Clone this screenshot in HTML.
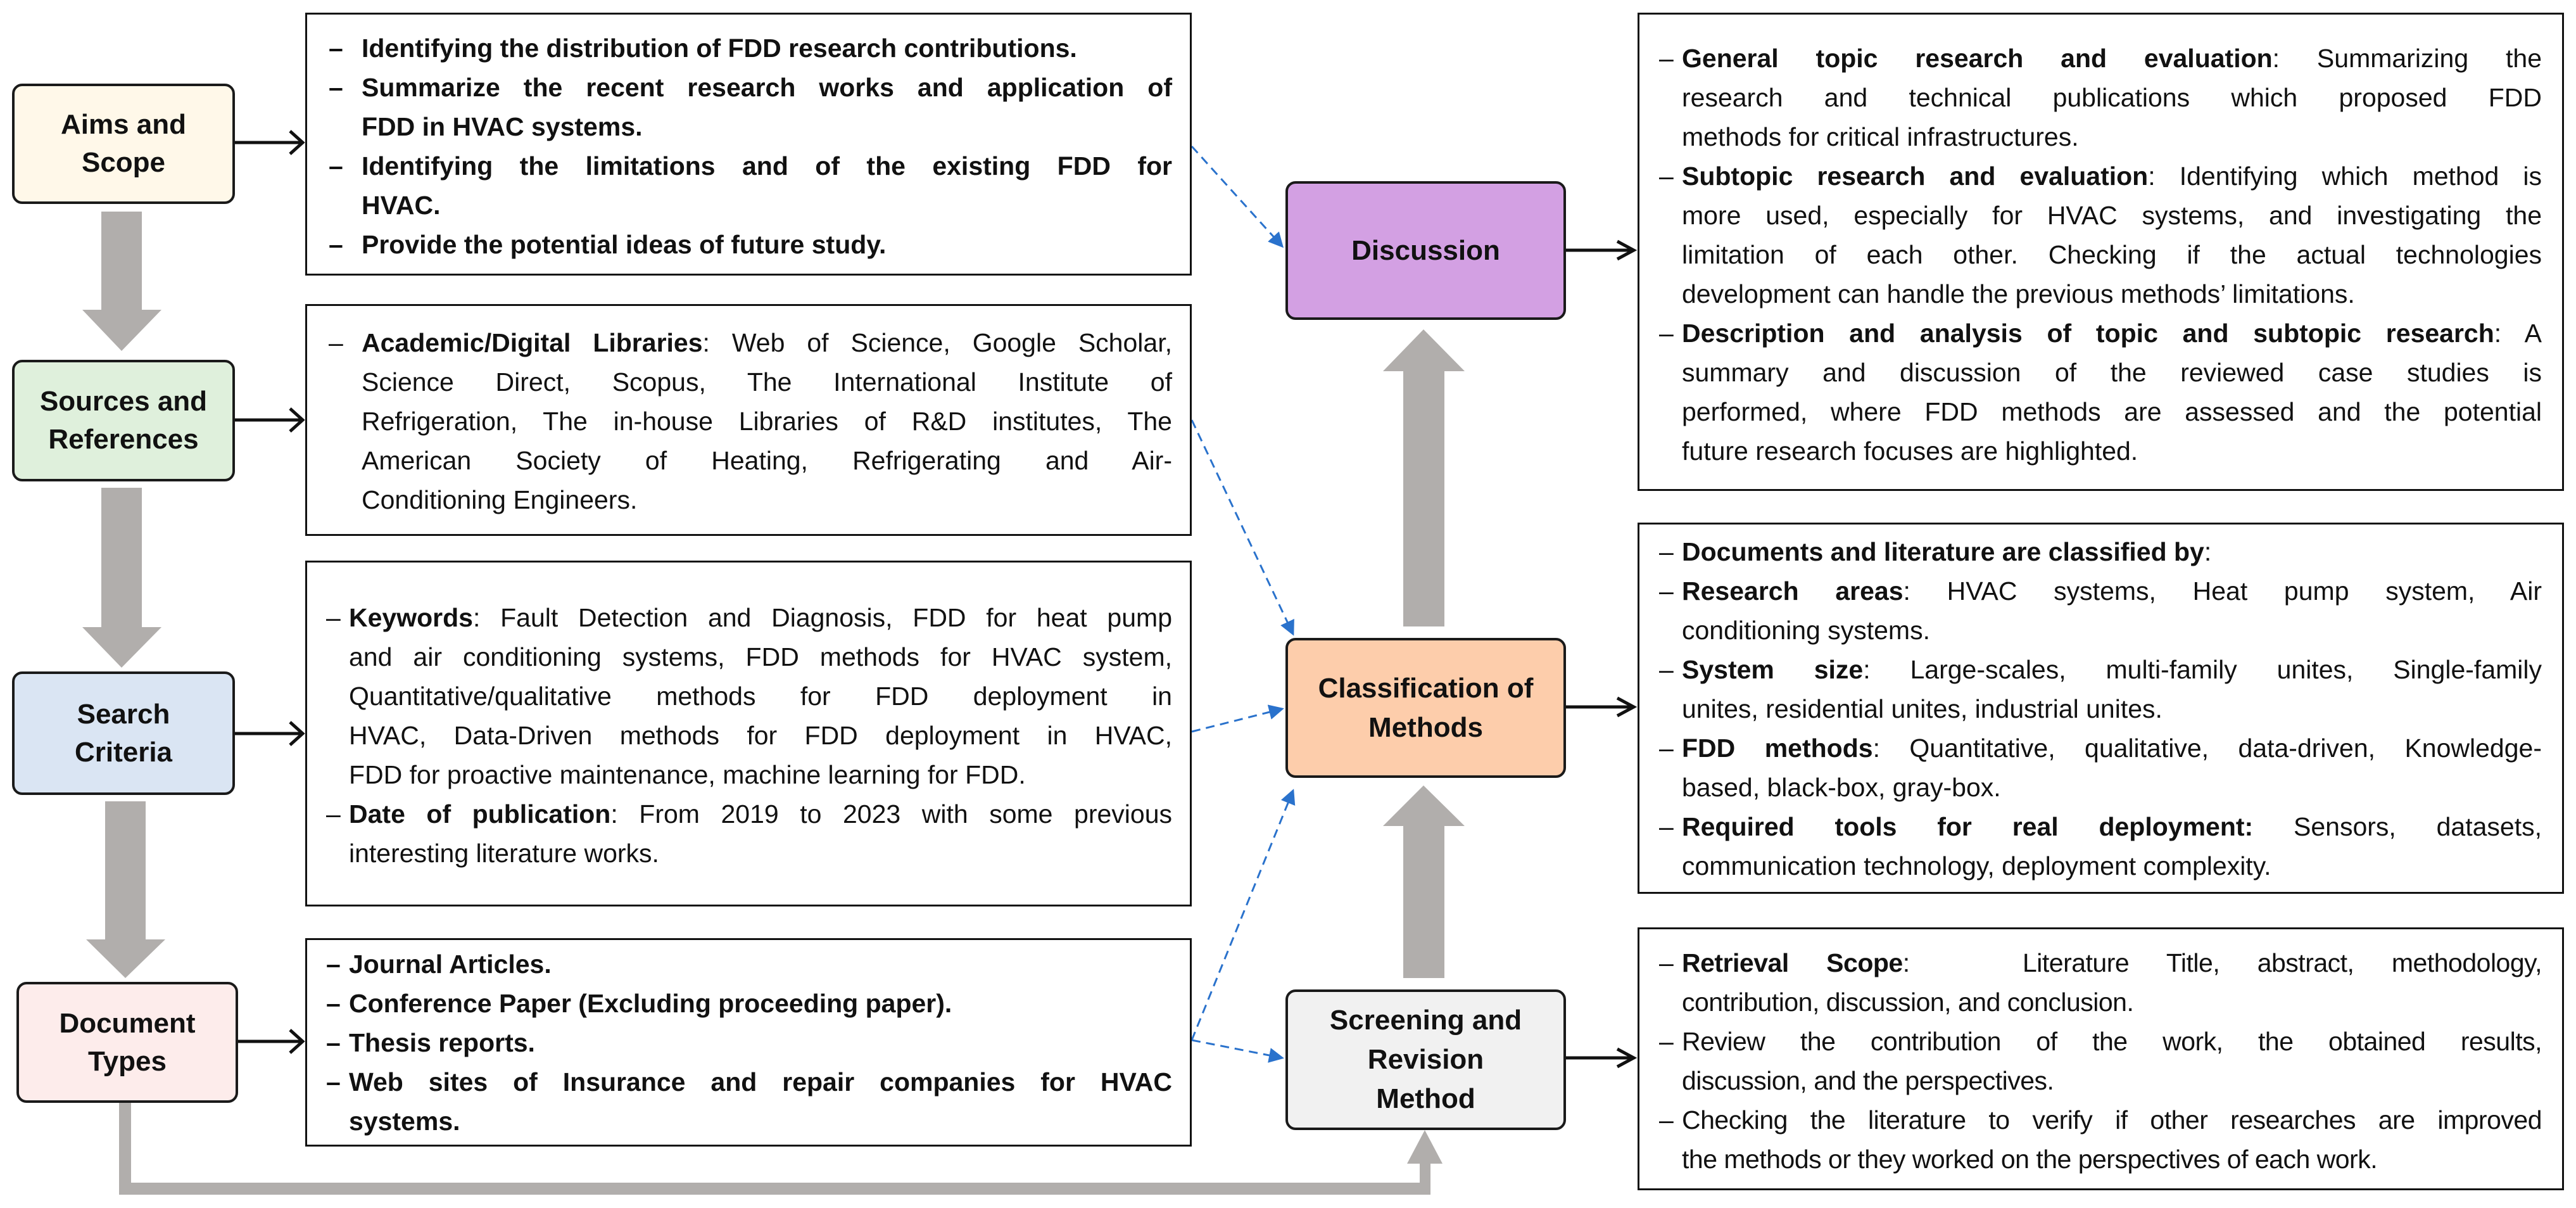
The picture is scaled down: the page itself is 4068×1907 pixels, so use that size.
<!DOCTYPE html>
<html><head><meta charset="utf-8"><style>
*{margin:0;padding:0;box-sizing:border-box}
body{width:4068px;height:1907px;background:#fff;position:relative;overflow:hidden;font-family:"Liberation Sans",Arial,sans-serif;color:#111}
.box{position:absolute;border:3.5px solid #111;background:#fff}
.lab{position:absolute;border:4px solid #1a1a1a;border-radius:16px;display:flex;flex-direction:column;justify-content:center;align-items:center;text-align:center;font-weight:bold;font-size:44px;line-height:60px}
.t{position:absolute;font-size:41px;line-height:62px;white-space:nowrap}
.t div{position:relative;height:62px}
.j{text-align:justify;text-align-last:justify}
.d{position:absolute;left:-36px}
b{font-weight:bold}
svg{position:absolute;left:0;top:0}
</style></head><body>

<svg width="4068" height="1907">
<defs>
<marker id="bl" markerWidth="8" markerHeight="8" refX="7" refY="4" orient="auto" markerUnits="strokeWidth"><path d="M0,0 L8,4 L0,8 z" fill="#2a72cc"/></marker>
</defs>
<g fill="#b1aeac">
<polygon points="160,334 224,334 224,489 255,489 192,554 130,489 160,489"/>
<polygon points="160,770 224,770 224,990 255,990 192,1054 130,990 160,990"/>
<polygon points="166,1265 230,1265 230,1483 261,1483 198,1544 136,1483 166,1483"/>
<polygon points="2216,989 2281,989 2281,586 2313,586 2248,520 2184,586 2216,586"/>
<polygon points="2216,1544 2281,1544 2281,1304 2313,1304 2248,1240 2184,1304 2216,1304"/>
<polygon points="188,1741 207,1741 207,1867 2242,1867 2242,1837 2222,1837 2250,1784 2278,1837 2259,1837 2259,1886 188,1886"/>
</g>
<g stroke="#111" stroke-width="5" fill="none">
<line x1="370" y1="225" x2="478" y2="225"/><polyline points="458,207 478,225 458,243"/>
<line x1="370" y1="663" x2="478" y2="663"/><polyline points="458,645 478,663 458,681"/>
<line x1="370" y1="1158" x2="478" y2="1158"/><polyline points="458,1140 478,1158 458,1176"/>
<line x1="376" y1="1644" x2="478" y2="1644"/><polyline points="458,1626 478,1644 458,1662"/>
<line x1="2473" y1="395" x2="2580" y2="395"/><polyline points="2554,381 2580,395 2554,409"/>
<line x1="2473" y1="1116" x2="2580" y2="1116"/><polyline points="2554,1102 2580,1116 2554,1130"/>
<line x1="2473" y1="1670" x2="2580" y2="1670"/><polyline points="2554,1656 2580,1670 2554,1684"/>
</g>
<g stroke="#2a72cc" stroke-width="3" stroke-dasharray="14 9" fill="none" marker-end="url(#bl)">
<line x1="1882" y1="231" x2="2025" y2="389"/>
<line x1="1882" y1="663" x2="2042" y2="1001"/>
<line x1="1882" y1="1155" x2="2025" y2="1119"/>
<line x1="1882" y1="1642" x2="2042" y2="1248"/>
<line x1="1882" y1="1642" x2="2025" y2="1670"/>
</g>
</svg>

<div class="lab" style="left:19px;top:132px;width:352px;height:190px;background:#fff8e9">Aims and<br>Scope</div>
<div class="lab" style="left:19px;top:568px;width:352px;height:192px;background:#dff0dc">Sources and<br>References</div>
<div class="lab" style="left:19px;top:1060px;width:352px;height:195px;background:#dae5f3">Search<br>Criteria</div>
<div class="lab" style="left:26px;top:1550px;width:350px;height:191px;background:#fdeceb">Document<br>Types</div>

<div class="lab" style="left:2030px;top:286px;width:443px;height:219px;background:#d3a0e3">Discussion</div>
<div class="lab" style="left:2030px;top:1007px;width:443px;height:221px;background:#fdcdab;line-height:62px">Classification of<br>Methods</div>
<div class="lab" style="left:2030px;top:1562px;width:443px;height:222px;background:#f1f1f1;line-height:62px">Screening and<br>Revision<br>Method</div>

<div class="box" style="left:482px;top:20px;width:1400px;height:415px"></div>
<div class="box" style="left:482px;top:480px;width:1400px;height:366px"></div>
<div class="box" style="left:482px;top:885px;width:1400px;height:546px"></div>
<div class="box" style="left:482px;top:1481px;width:1400px;height:329px"></div>
<div class="box" style="left:2586px;top:20px;width:1463px;height:755px"></div>
<div class="box" style="left:2586px;top:825px;width:1463px;height:586px"></div>
<div class="box" style="left:2586px;top:1464px;width:1463px;height:415px"></div>

<div class="t" style="left:571px;top:45px;width:1280px;font-weight:bold">
<div><span class="d" style="left:-52px">–</span>Identifying the distribution of FDD research contributions.</div>
<div class="j"><span class="d" style="left:-52px">–</span>Summarize the recent research works and application of</div>
<div>FDD in HVAC systems.</div>
<div class="j"><span class="d" style="left:-52px">–</span>Identifying the limitations and of the existing FDD for</div>
<div>HVAC.</div>
<div><span class="d" style="left:-52px">–</span>Provide the potential ideas of future study.</div>
</div>

<div class="t" style="left:571px;top:510px;width:1280px">
<div class="j"><span class="d" style="left:-52px">–</span><b>Academic/Digital Libraries</b>: Web of Science, Google Scholar,</div>
<div class="j">Science Direct, Scopus, The International Institute of</div>
<div class="j">Refrigeration, The in-house Libraries of R&amp;D institutes, The</div>
<div class="j">American Society of Heating, Refrigerating and Air-</div>
<div>Conditioning Engineers.</div>
</div>

<div class="t" style="left:551px;top:944px;width:1300px">
<div class="j"><span class="d">–</span><b>Keywords</b>: Fault Detection and Diagnosis, FDD for heat pump</div>
<div class="j">and air conditioning systems, FDD methods for HVAC system,</div>
<div class="j">Quantitative/qualitative methods for FDD deployment in</div>
<div class="j">HVAC, Data-Driven methods for FDD deployment in HVAC,</div>
<div>FDD for proactive maintenance, machine learning for FDD.</div>
<div class="j"><span class="d">–</span><b>Date of publication</b>: From 2019 to 2023 with some previous</div>
<div>interesting literature works.</div>
</div>

<div class="t" style="left:551px;top:1491px;width:1300px;font-weight:bold">
<div><span class="d">–</span>Journal Articles.</div>
<div><span class="d">–</span>Conference Paper (Excluding proceeding paper).</div>
<div><span class="d">–</span>Thesis reports.</div>
<div class="j"><span class="d">–</span>Web sites of Insurance and repair companies for HVAC</div>
<div>systems.</div>
</div>

<div class="t" style="left:2656px;top:61px;width:1358px">
<div class="j"><span class="d">–</span><b>General topic research and evaluation</b>: Summarizing the</div>
<div class="j">research and technical publications which proposed FDD</div>
<div>methods for critical infrastructures.</div>
<div class="j"><span class="d">–</span><b>Subtopic research and evaluation</b>: Identifying which method is</div>
<div class="j">more used, especially for HVAC systems, and investigating the</div>
<div class="j">limitation of each other. Checking if the actual technologies</div>
<div>development can handle the previous methods’ limitations.</div>
<div class="j"><span class="d">–</span><b>Description and analysis of topic and subtopic research</b>: A</div>
<div class="j">summary and discussion of the reviewed case studies is</div>
<div class="j">performed, where FDD methods are assessed and the potential</div>
<div>future research focuses are highlighted.</div>
</div>

<div class="t" style="left:2656px;top:840px;width:1358px">
<div><span class="d">–</span><b>Documents and literature are classified by</b>:</div>
<div class="j"><span class="d">–</span><b>Research areas</b>: HVAC systems, Heat pump system, Air</div>
<div>conditioning systems.</div>
<div class="j"><span class="d">–</span><b>System size</b>: Large-scales, multi-family unites, Single-family</div>
<div>unites, residential unites, industrial unites.</div>
<div class="j"><span class="d">–</span><b>FDD methods</b>: Quantitative, qualitative, data-driven, Knowledge-</div>
<div>based, black-box, gray-box.</div>
<div class="j"><span class="d">–</span><b>Required tools for real deployment:</b> Sensors, datasets,</div>
<div>communication technology, deployment complexity.</div>
</div>

<div class="t" style="left:2656px;top:1489px;width:1358px;letter-spacing:-0.5px">
<div class="j"><span class="d">–</span><b>Retrieval Scope</b>: &nbsp; Literature Title, abstract, methodology,</div>
<div>contribution, discussion, and conclusion.</div>
<div class="j"><span class="d">–</span>Review the contribution of the work, the obtained results,</div>
<div>discussion, and the perspectives.</div>
<div class="j"><span class="d">–</span>Checking the literature to verify if other researches are improved</div>
<div>the methods or they worked on the perspectives of each work.</div>
</div>

</body></html>
